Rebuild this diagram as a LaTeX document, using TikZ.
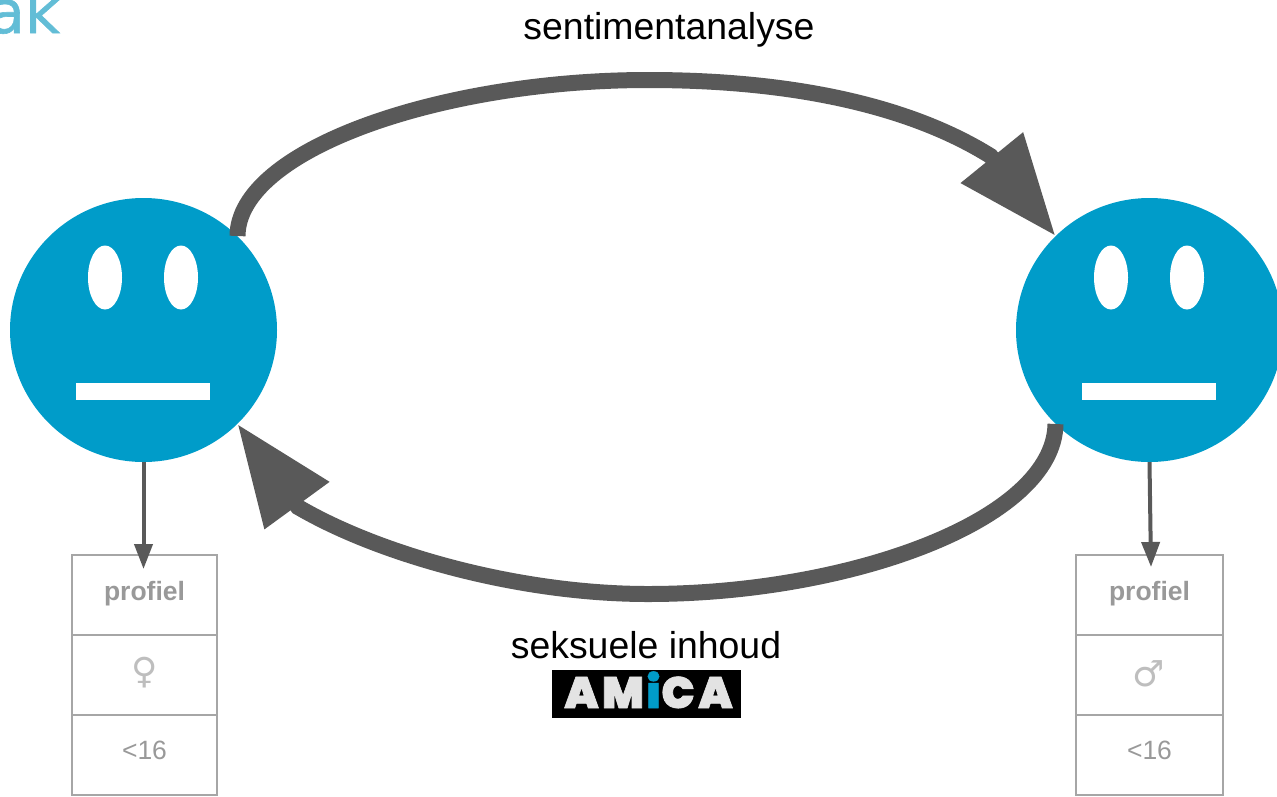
\documentclass[tikz,border=0pt]{standalone}
\usepackage{fontspec}
\setmainfont{Liberation Sans}
\newfontfamily\titlefont[FakeBold=1]{DejaVu Sans}
\newfontfamily\symbolfont{DejaVu Sans}
\newfontfamily\logofont[FakeBold=1.5]{Poppins Black}
\usetikzlibrary{arrows.meta}
\usetikzlibrary{shapes.geometric}
\definecolor{faceblue}{HTML}{009CC9}
\definecolor{arrowgray}{HTML}{595959}
\definecolor{boxgray}{HTML}{A6A6A6}
\definecolor{textgray}{HTML}{999999}
\definecolor{symbolgray}{HTML}{BEBEBE}
\definecolor{logogray}{HTML}{E3E3E3}
\definecolor{titleblue}{HTML}{62BDD6}
\tikzstyle{face}=[shape=ellipse,minimum width=267pt,minimum height=264pt,inner sep=0,fill=faceblue]
\tikzstyle{eye}=[shape=ellipse,minimum width=34pt,minimum height=64pt,inner sep=0,fill=white]
\tikzstyle{mouth}=[rectangle,minimum width=134pt,minimum height=17pt,inner sep=0,fill=white]
\tikzstyle{cell}=[rectangle,minimum height=80pt,inner sep=0,line width=2pt,draw=boxgray]
\tikzstyle{celltext}=[text=textgray,inner sep=0,anchor=base,font=\fontsize{26.5}{30}\selectfont]
\tikzstyle{bigarrow}=[arrowgray,line width=16pt,-{Triangle[length=101pt,width=76pt]}]
\tikzstyle{smallarrow}=[arrowgray,line width=4pt,-{Triangle[length=25pt,width=18pt]}]
\tikzstyle{label}=[font=\fontsize{37.4}{40}\selectfont,anchor=base]
\tikzstyle{logoletter}=[font=\logofont\fontsize{44}{44}\selectfont,anchor=base,text=logogray,inner sep=0]
\begin{document}
\begin{tikzpicture}[x=1pt,y=-1pt]
\clip (0,0) rectangle (1277,796);
\node[anchor=base east,inner sep=0,text=titleblue,font=\titlefont\fontsize{60}{60}\selectfont] (title) at (60,33) {ak};

\foreach \x/\n in {143.5/left,1149.5/right}{
	\node[face] (face\n) at (\x,330) {};
	\node[eye] (eyea\n) at (\x-38.5,277.5) {};
	\node[eye] (eyeb\n) at (\x+37.5,277.5) {};
	\node[mouth] (mouth\n) at (\x-0.5,391) {};
}

\coordinate (basetop) at (990.5,156);
\coordinate (basebottom) at (298,507);
\draw[bigarrow] (faceleft.45) .. controls (238,150) and (440,80) .. (648,80) .. controls (810,80) and (920,112) .. (basetop) -- (faceright.135);
\draw[bigarrow] (faceright.225) .. controls (1054,520) and (850,594) .. (648,594) .. controls (520,594) and (380,555) .. (basebottom) -- (faceleft.315);

\node[label] (topic) at (669,39) {sentimentanalyse};
\node[label] (content) at (646,658) {seksuele inhoud};

% profile boxes
\foreach \x/\w/\n/\s/\sx/\sy in {144.5/145/left/♀/145/683,1149.5/147/right/♂/1149/686}{
	\node[cell,minimum width=\w pt] (cella\n) at (\x,595) {};
	\node[cell,minimum width=\w pt] (cellb\n) at (\x,675) {};
	\node[cell,minimum width=\w pt] (cellc\n) at (\x,755) {};
	\node[celltext,font=\bfseries\fontsize{26.5}{30}\selectfont] (name\n) at (\x,600) {profiel};
	\node[celltext,text=symbolgray,font=\symbolfont\fontsize{36}{36}\selectfont] (sex\n) at (\sx,\sy) {\s};
	\node[celltext] (age\n) at (\x,759) {<16};
}
\coordinate (tipleft) at (143.5,569);
\coordinate (tipright) at (1151,567);
\draw[smallarrow] (faceleft.south) -- (tipleft);
\draw[smallarrow] (faceright.south) -- (tipright);

\node[fill=black,minimum width=189pt,minimum height=48pt,inner sep=0] (logo) at (646.5,694) {};
\node[logoletter] (lettera) at (581.5,708) {A};
\node[logoletter] (letterm) at (623,708) {M};
\node[logoletter,text=faceblue] (letteri) at (653.5,708) {i};
\node[logoletter] (letterc) at (678,708) {C};
\node[logoletter] (letterb) at (715.5,708) {A};
\end{tikzpicture}
\end{document}
